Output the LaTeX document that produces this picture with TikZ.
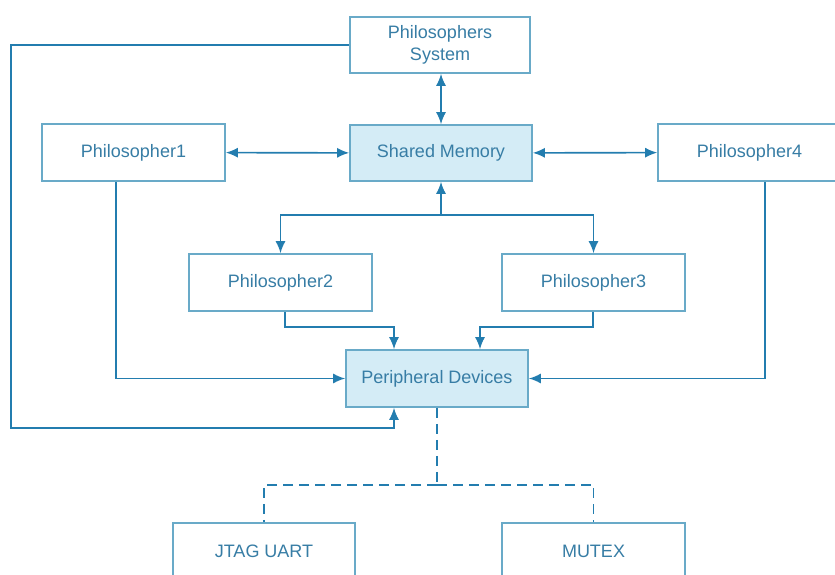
\documentclass[tikz,border=0pt]{standalone}
\usepackage{fontspec}
\setmainfont{Liberation Sans}
\usetikzlibrary{arrows.meta}
\definecolor{wire}{RGB}{35,125,175}
\definecolor{frame}{RGB}{105,170,200}
\definecolor{label}{RGB}{55,125,165}
\definecolor{shade}{RGB}{212,236,246}
\begin{document}
\begin{tikzpicture}[x=1pt,y=-1pt,
  box/.style={draw=frame, line width=1.6pt, fill=white, minimum width=183pt,
    minimum height=57pt, inner sep=0pt, text=label,
    font=\fontsize{18}{22}\selectfont, align=center},
  hot/.style={box, fill=shade},
  tip/.tip={Latex[length=12pt,width=10pt]},
  link/.style={draw=wire, line width=1.6pt, -tip},
  both/.style={draw=wire, line width=1.6pt, tip-tip},
  tie/.style={draw=wire, line width=1.6pt, dash pattern=on 10pt off 6pt}]
  \useasboundingbox (0,0) rectangle (835,575);
  \clip (0,0) rectangle (835,575);

  % blocks
  \node[box, minimum width=180pt, minimum height=56pt] (ps) at (440,45) {Philosophers\\System};
  \node[hot, minimum width=182pt, minimum height=56pt] (sm) at (441,153) {Shared Memory};
  \node[box] (p1) at (133.5,152.5) {Philosopher1};
  \node[box] (p4) at (749.5,152.5) {Philosopher4};
  \node[box] (p2) at (280.5,282.5) {Philosopher2};
  \node[box] (p3) at (593.5,282.5) {Philosopher3};
  \node[hot, minimum width=182pt] (pd) at (437,378.5) {Peripheral Devices};
  \node[box, minimum width=182pt] (jtag) at (264,551.5) {JTAG UART};
  \node[box] (mutex) at (593.5,551.5) {MUTEX};

  % shared memory links
  \draw[both] (ps.south -| sm.south) -- (sm.north);
  \draw[both] (p1) -- (sm);
  \draw[both] (sm) -- (p4);
  \path (sm.south) ++(0,33) coordinate (fork);
  \draw[link] (fork) -- (sm.south);
  \draw[link] (fork) -| (p2.north);
  \draw[link] (fork) -| (p3.north);

  % links into the peripherals
  \draw[link] ([xshift=4.5pt]p2.south) -- ++(0,15) -| ([xshift=-43pt]pd.north);
  \draw[link] ([xshift=-0.5pt]p3.south) -- ++(0,15) -| ([xshift=43pt]pd.north);
  \draw[link] ([xshift=-17.5pt]p1.south) |- (pd.west);
  \draw[link] ([xshift=15.5pt]p4.south) |- (pd.east);
  \draw[link] (ps.west) -- ++(-338,0) -- ++(0,383) -| ([xshift=-43pt]pd.south);

  % devices on the bus
  \path (pd.south) ++(0,77) coordinate (split);
  \draw[tie] (pd.south) -- (split);
  \draw[tie] (split) -| (jtag.north);
  \draw[tie] (split) -| (mutex.north);
\end{tikzpicture}
\end{document}
